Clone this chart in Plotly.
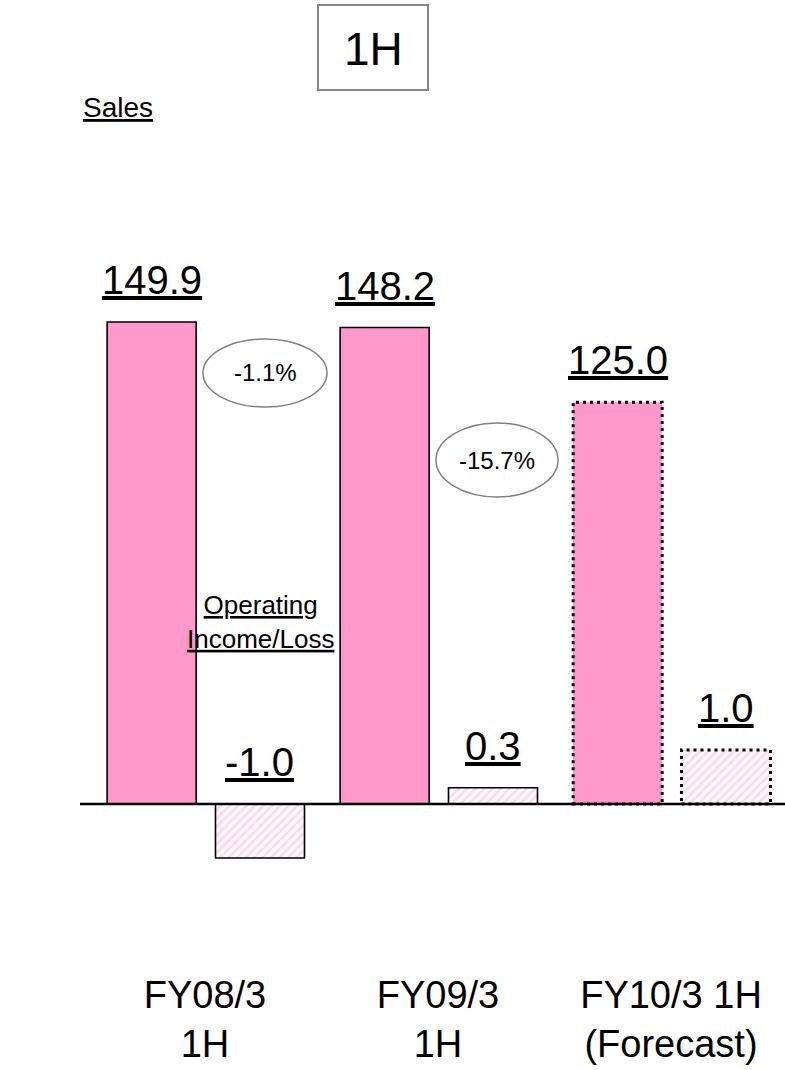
import plotly.graph_objects as go

# ---------------- data ----------------
categories = ["FY08/3<br>1H", "FY09/3<br>1H", "FY10/3 1H<br>(Forecast)"]
sales = [149.9, 148.2, 125.0]
operating_income = [-1.0, 0.3, 1.0]
is_forecast = [False, False, True]
sales_change = ["-1.1%", "-15.7%"]

# ---------------- layout constants ----------------
W, H = 785, 1070
PINK = "#FF99CC"
HATCH = "#FFADD6"
FONT = "Liberation Sans, Arial, sans-serif"

BW = 0.382      # bar width (category units)
S_OFF = -0.42   # sales bar offset
O_OFF = 0.045   # operating income bar offset

PLOT_BOTTOM = 969   # px where plot area ends
ZERO_PX = 804       # px of zero line
S_SCALE = 3.215     # px per sales unit
O_SCALE = 54.0      # px per op-income unit


def px_x(p):
    return p / W


def px_y(p):
    return 1 - p / PLOT_BOTTOM


x = list(range(len(categories)))

fig = go.Figure()

fig.add_trace(go.Bar(
    x=x, y=sales, width=BW, offset=S_OFF, yaxis="y",
    marker=dict(color=PINK,
                line=dict(color="black",
                          width=[0 if f else 1.6 for f in is_forecast])),
    showlegend=False, hoverinfo="skip",
))

fig.add_trace(go.Bar(
    x=x, y=operating_income, width=BW, offset=O_OFF, yaxis="y2",
    marker=dict(color="white",
                pattern=dict(shape="/", fgcolor=HATCH, bgcolor="white",
                             size=6, solidity=0.45),
                line=dict(color="black",
                          width=[0 if f else 1.6 for f in is_forecast])),
    showlegend=False, hoverinfo="skip",
))

shapes = []
annotations = []

# dotted outlines for forecast bars
for i, f in enumerate(is_forecast):
    if f:
        shapes.append(dict(type="rect", xref="x", yref="y",
                           x0=i + S_OFF, x1=i + S_OFF + BW, y0=0, y1=sales[i],
                           line=dict(color="black", width=3, dash="3px,4px")))
        shapes.append(dict(type="rect", xref="x", yref="y2",
                           x0=i + O_OFF, x1=i + O_OFF + BW, y0=0,
                           y1=operating_income[i],
                           line=dict(color="black", width=3, dash="3px,4px")))

# value labels
for i, v in enumerate(sales):
    annotations.append(dict(x=i + S_OFF + BW / 2, y=v, xref="x", yref="y",
                            text=f"<u>{v:.1f}</u>", showarrow=False,
                            xanchor="center", yanchor="bottom", yshift=18,
                            font=dict(size=40, family=FONT, color="black")))
for i, v in enumerate(operating_income):
    annotations.append(dict(x=i + O_OFF + BW / 2, y=max(v, 0), xref="x", yref="y2",
                            text=f"<u>{v:.1f}</u>", showarrow=False,
                            xanchor="center", yanchor="bottom", yshift=18,
                            font=dict(size=40, family=FONT, color="black")))

# change ellipses (between sales bars)
ell = [(265, 373, 124, 68), (497, 460, 122, 74)]
for (cx, cy, ew, eh), t in zip(ell, sales_change):
    shapes.append(dict(type="circle", xref="paper", yref="paper",
                       x0=px_x(cx - ew / 2), x1=px_x(cx + ew / 2),
                       y0=px_y(cy + eh / 2), y1=px_y(cy - eh / 2),
                       line=dict(color="#808080", width=1.5),
                       fillcolor="white"))
    annotations.append(dict(x=px_x(cx), y=px_y(cy), xref="paper", yref="paper",
                            text=t, showarrow=False,
                            xanchor="center", yanchor="middle",
                            font=dict(size=24, family=FONT, color="black")))

# baseline
shapes.append(dict(type="line", xref="paper", yref="y", x0=px_x(80), x1=1,
                   y0=0, y1=0, line=dict(color="black", width=2.5)))

# title box "1H"
shapes.append(dict(type="rect", xref="paper", yref="paper",
                   x0=px_x(318), x1=px_x(428), y0=px_y(90), y1=px_y(5),
                   line=dict(color="#888888", width=2)))
annotations.append(dict(x=px_x(373), y=px_y(49), xref="paper", yref="paper",
                        text="1H", showarrow=False,
                        xanchor="center", yanchor="middle",
                        font=dict(size=46, family=FONT, color="black")))

# "Sales" heading
annotations.append(dict(x=px_x(81), y=px_y(108), xref="paper", yref="paper",
                        xanchor="left", yanchor="middle",
                        text="<u>Sales</u>", showarrow=False,
                        font=dict(size=28, family=FONT, color="black")))

# "Operating Income/Loss" label
annotations.append(dict(x=px_x(260), y=px_y(622), xref="paper", yref="paper",
                        text="<u>Operating</u><br><u>Income/Loss</u>",
                        showarrow=False, xanchor="center", yanchor="middle",
                        font=dict(size=26, family=FONT, color="black")))

s_top = ZERO_PX / S_SCALE
s_bot = -(PLOT_BOTTOM - ZERO_PX) / S_SCALE
o_top = ZERO_PX / O_SCALE
o_bot = -(PLOT_BOTTOM - ZERO_PX) / O_SCALE

fig.update_layout(
    width=W, height=H,
    margin=dict(l=0, r=0, t=0, b=H - PLOT_BOTTOM, pad=0),
    paper_bgcolor="white", plot_bgcolor="white",
    barmode="overlay",
    xaxis=dict(range=[-205 / 233, (W - 205) / 233], tickvals=x, ticktext=categories,
               showgrid=False, zeroline=False, showline=False, ticks="",
               tickfont=dict(size=38, family=FONT, color="black"),
               fixedrange=True),
    yaxis=dict(range=[s_bot, s_top], visible=False, fixedrange=True),
    yaxis2=dict(range=[o_bot, o_top], overlaying="y", visible=False,
                fixedrange=True),
    shapes=shapes,
    annotations=annotations,
    showlegend=False,
)

fig.write_html("out.html")
